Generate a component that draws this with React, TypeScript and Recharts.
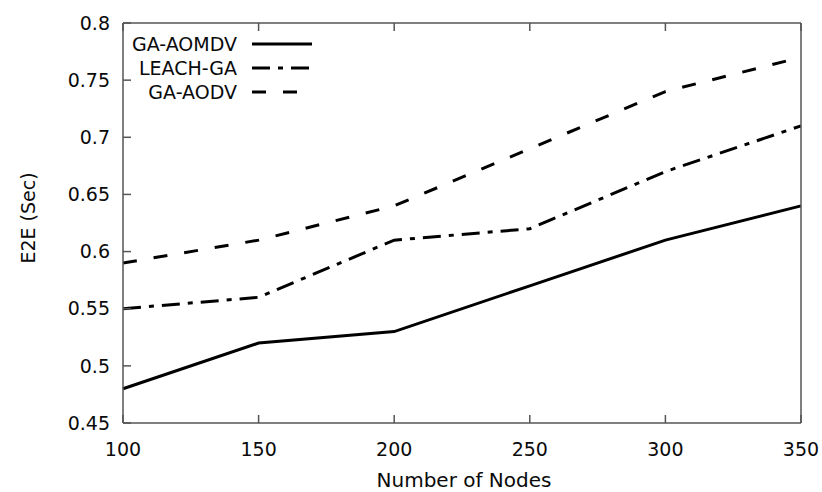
import { LineChart, Line, XAxis, YAxis, Label } from "recharts";

const nodes = [100, 150, 200, 250, 300, 350];
const gaAomdv = [0.48, 0.52, 0.53, 0.57, 0.61, 0.64];
const leachGa = [0.55, 0.56, 0.61, 0.62, 0.67, 0.71];
const gaAodv = [0.59, 0.61, 0.64, 0.69, 0.74, 0.77];

const xTicks = [100, 150, 200, 250, 300, 350];
const yTicks = [0.45, 0.5, 0.55, 0.6, 0.65, 0.7, 0.75, 0.8];

const data = nodes.map((n, i) => ({
  nodes: n,
  gaAomdv: gaAomdv[i],
  leachGa: leachGa[i],
  gaAodv: gaAodv[i],
}));

const SERIES = [
  { key: "gaAomdv", name: "GA-AOMDV", dash: undefined as string | undefined },
  { key: "leachGa", name: "LEACH-GA", dash: "18 8 5 8" },
  { key: "gaAodv", name: "GA-AODV", dash: "14 17" },
];

const FONT = "'DejaVu Sans', sans-serif";
const FRAME = "#555";
const TEXT = "#0a0a0a";
const TICK_LEN = 8;

const BottomTick = ({ x, y, payload }: any) => (
  <g>
    <line x1={x} y1={y} x2={x} y2={y - TICK_LEN} stroke={FRAME} strokeWidth={1.5} />
    <text x={x} y={y + 33} textAnchor="middle" fontFamily={FONT} fontSize={19} fill={TEXT}>
      {payload.value}
    </text>
  </g>
);

const TopTick = ({ x, y }: any) => (
  <line x1={x} y1={y} x2={x} y2={y + TICK_LEN} stroke={FRAME} strokeWidth={1.5} />
);

const LeftTick = ({ x, y, payload }: any) => (
  <g>
    <line x1={x} y1={y} x2={x + TICK_LEN} y2={y} stroke={FRAME} strokeWidth={1.5} />
    <text x={x - 13} y={y} dy="0.35em" textAnchor="end" fontFamily={FONT} fontSize={19} fill={TEXT}>
      {payload.value}
    </text>
  </g>
);

const RightTick = ({ x, y }: any) => (
  <line x1={x} y1={y} x2={x - TICK_LEN} y2={y} stroke={FRAME} strokeWidth={1.5} />
);

// drawn over the chart so it doesn't take space from the plot
const LegendBox = () => (
  <svg
    width={240}
    height={80}
    style={{ position: "absolute", left: 123, top: 23, overflow: "visible", pointerEvents: "none" }}
  >
    {SERIES.map((s, i) => {
      const cy = 21 + i * 24;
      return (
        <g key={s.key}>
          <text x={114} y={cy} dy="0.35em" textAnchor="end" fontFamily={FONT} fontSize={19} fill={TEXT}>
            {s.name}
          </text>
          <line x1={129} y1={cy} x2={189} y2={cy} stroke="#000" strokeWidth={3} strokeDasharray={s.dash} />
        </g>
      );
    })}
  </svg>
);

export default function App() {
  return (
    <div style={{ position: "fixed", left: 0, top: 0, width: 822, height: 492, background: "#fff" }}>
      <LineChart width={822} height={492} data={data} margin={{ top: 22, right: 20, left: 0, bottom: 0 }}>
        <XAxis
          dataKey="nodes"
          type="number"
          domain={[100, 350]}
          ticks={xTicks}
          height={69}
          tickSize={0}
          tickMargin={0}
          tick={<BottomTick />}
          stroke={FRAME}
          strokeWidth={1.5}
        >
          <Label
            content={({ viewBox }: any) => (
              <text
                x={viewBox.x + viewBox.width / 2 + 2}
                y={viewBox.y + 57}
                dy="0.35em"
                textAnchor="middle"
                fontFamily={FONT}
                fontSize={20}
                fill={TEXT}
              >
                Number of Nodes
              </text>
            )}
          />
        </XAxis>
        <XAxis
          xAxisId="top"
          orientation="top"
          dataKey="nodes"
          type="number"
          domain={[100, 350]}
          ticks={xTicks}
          height={1}
          tickSize={0}
          tickMargin={0}
          tick={<TopTick />}
          stroke={FRAME}
          strokeWidth={1.5}
        />
        <YAxis
          type="number"
          domain={[0.45, 0.8]}
          ticks={yTicks}
          width={123}
          tickSize={0}
          tickMargin={0}
          tick={<LeftTick />}
          stroke={FRAME}
          strokeWidth={1.5}
        >
          <Label
            content={({ viewBox }: any) => {
              const cx = 28;
              const cy = viewBox.y + viewBox.height / 2 - 5;
              return (
                <text
                  x={cx}
                  y={cy}
                  dy="0.35em"
                  textAnchor="middle"
                  transform={`rotate(-90 ${cx} ${cy})`}
                  fontFamily={FONT}
                  fontSize={19}
                  fill={TEXT}
                >
                  E2E (Sec)
                </text>
              );
            }}
          />
        </YAxis>
        <YAxis
          yAxisId="right"
          orientation="right"
          type="number"
          domain={[0.45, 0.8]}
          ticks={yTicks}
          width={1}
          tickSize={0}
          tickMargin={0}
          tick={<RightTick />}
          stroke={FRAME}
          strokeWidth={1.5}
        />
        {SERIES.map((s) => (
          <Line
            key={s.key}
            dataKey={s.key}
            name={s.name}
            stroke="#000"
            strokeWidth={3}
            strokeDasharray={s.dash}
            dot={false}
            isAnimationActive={false}
          />
        ))}
      </LineChart>
      <LegendBox />
    </div>
  );
}
